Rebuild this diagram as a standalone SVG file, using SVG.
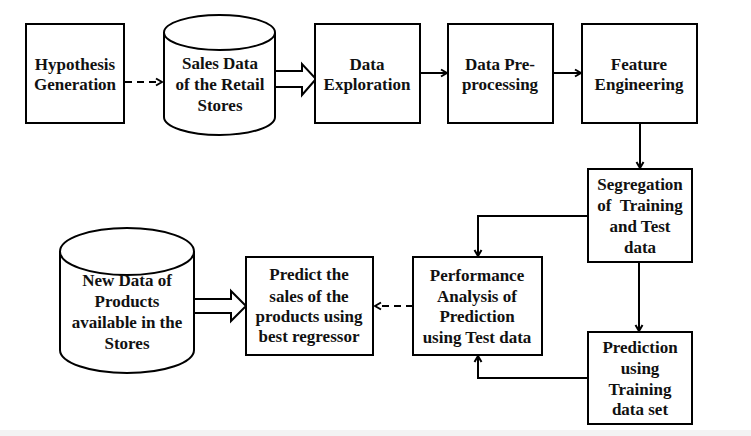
<svg xmlns="http://www.w3.org/2000/svg" width="751" height="436" viewBox="0 0 751 436">
<style>
.box{fill:#fff;stroke:#000;stroke-width:2}
.cyl{fill:#fff;stroke:#000;stroke-width:2}
.t{font-family:"Liberation Serif","Times New Roman",serif;font-weight:bold;font-size:17px;fill:#111;text-anchor:middle;white-space:pre}
.ln{fill:none;stroke:#000;stroke-width:2}
.dash{fill:none;stroke:#000;stroke-width:2;stroke-dasharray:7,5}
.hollow{fill:#fff;stroke:#000;stroke-width:2;stroke-linejoin:miter}
</style>
<defs>
<marker id="ah" viewBox="0 0 10 10" refX="9" refY="5" markerWidth="10" markerHeight="10" markerUnits="userSpaceOnUse" orient="auto">
<path d="M3,1.5 L9,5 L3,8.5" fill="none" stroke="#000" stroke-width="2"/>
</marker>
</defs>
<rect x="0" y="0" width="751" height="436" fill="#fff"/>
<rect x="0" y="430" width="751" height="6" fill="#f3f3f3"/>

<g id="connectors">
<line class="dash" x1="125" y1="82" x2="162" y2="82" marker-end="url(#ah)"/>
<path class="hollow" d="M275,71 L302,71 L302,64 L316,79 L302,95 L302,87 L275,87"/>
<line class="ln" x1="420" y1="73" x2="447" y2="73" marker-end="url(#ah)"/>
<line class="ln" x1="553" y1="73" x2="581" y2="73" marker-end="url(#ah)"/>
<line class="ln" x1="640" y1="123" x2="640" y2="168" marker-end="url(#ah)"/>
<polyline class="ln" points="588,216 478,216 478,256" marker-end="url(#ah)"/>
<line class="ln" x1="639" y1="262" x2="639" y2="331" marker-end="url(#ah)"/>
<polyline class="ln" points="588,378 478,378 478,356" marker-end="url(#ah)"/>
<line class="dash" x1="413" y1="306" x2="375" y2="306" marker-end="url(#ah)"/>
<path class="hollow" d="M194,299 L231,299 L231,291 L246,306 L231,321 L231,313 L194,313"/>
</g>

<g id="hypothesis">
<rect class="box" x="26" y="24" width="98" height="99"/>
<text class="t" x="75" y="70">Hypothesis</text>
<text class="t" x="75" y="90">Generation</text>
</g>

<g id="sales-data">
<path class="cyl" d="M164,33 L164,117 A55.5,18 0 0 0 275,117 L275,33"/>
<ellipse class="cyl" cx="219.5" cy="32.5" rx="55.5" ry="17.5"/>
<text class="t" x="220" y="69">Sales Data</text>
<text class="t" x="220" y="90">of the Retail</text>
<text class="t" x="220" y="111">Stores</text>
</g>

<g id="data-exploration">
<rect class="box" x="315" y="24" width="105" height="99"/>
<text class="t" x="367" y="70">Data</text>
<text class="t" x="367" y="90">Exploration</text>
</g>

<g id="data-preprocessing">
<rect class="box" x="448" y="24" width="105" height="99"/>
<text class="t" x="500" y="70">Data Pre-</text>
<text class="t" x="500" y="90">processing</text>
</g>

<g id="feature-engineering">
<rect class="box" x="582" y="24" width="115" height="99"/>
<text class="t" x="639" y="70">Feature</text>
<text class="t" x="639" y="90">Engineering</text>
</g>

<g id="segregation">
<rect class="box" x="588" y="169" width="104" height="93"/>
<text class="t" x="640" y="190">Segregation</text>
<text class="t" x="640" y="211">of  Training</text>
<text class="t" x="640" y="232">and Test</text>
<text class="t" x="640" y="253">data</text>
</g>

<g id="performance">
<rect class="box" x="413" y="257" width="129" height="98"/>
<text class="t" x="477" y="281">Performance</text>
<text class="t" x="477" y="302">Analysis of</text>
<text class="t" x="477" y="322">Prediction</text>
<text class="t" x="477" y="343">using Test data</text>
</g>

<g id="prediction-training">
<rect class="box" x="588" y="332" width="104" height="92"/>
<text class="t" x="640" y="353">Prediction</text>
<text class="t" x="640" y="374">using</text>
<text class="t" x="640" y="395">Training</text>
<text class="t" x="640" y="415">data set</text>
</g>

<g id="predict-sales">
<rect class="box" x="246" y="257" width="127" height="98"/>
<text class="t" x="309" y="280">Predict the</text>
<text class="t" x="309" y="302">sales of the</text>
<text class="t" x="309" y="322">products using</text>
<text class="t" x="309" y="342">best regressor</text>
</g>

<g id="new-data">
<path class="cyl" d="M60,251 L60,350 A67,23 0 0 0 194,350 L194,251"/>
<ellipse class="cyl" cx="127" cy="251.5" rx="67" ry="23.5"/>
<text class="t" x="127" y="286">New Data of</text>
<text class="t" x="127" y="307">Products</text>
<text class="t" x="127" y="328">available in the</text>
<text class="t" x="127" y="349">Stores</text>
</g>
</svg>
